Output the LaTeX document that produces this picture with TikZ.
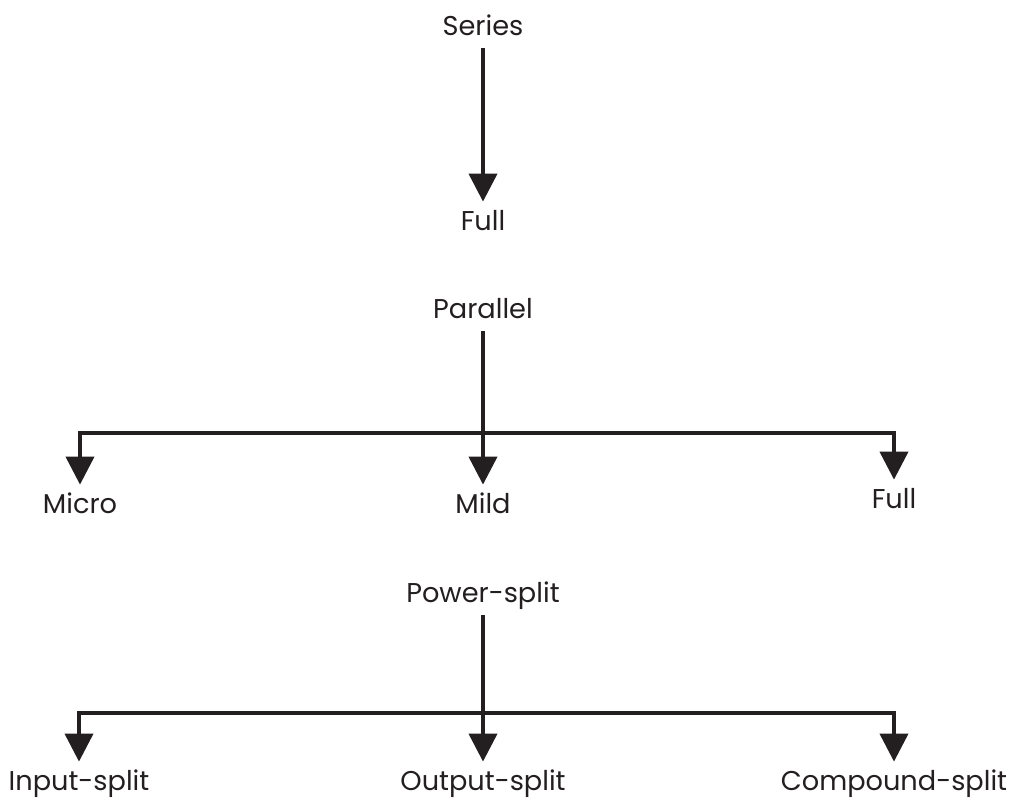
\documentclass[tikz,border=0pt]{standalone}
\usepackage{fontspec}
\setmainfont{Poppins}
\usetikzlibrary{arrows.meta}
\definecolor{ink}{HTML}{231F20}

\begin{document}
\begin{tikzpicture}[x=0.5pt,y=-0.5pt,>={Triangle[length=14pt,width=14pt]}]
\tikzset{lbl/.style={anchor=base,inner xsep=2pt,inner ysep=5pt,text height=9pt,text depth=1.5pt,font=\fontsize{13.6}{16}\selectfont,text=ink},
  link/.style={->,line width=2pt,draw=ink}}
\useasboundingbox (0,0) rectangle (1014,798);
% series
\node[lbl] (ser) at (483,35) {Series};
\node[lbl] (serfull) at (483,230) {Full};
\draw[link] (ser)--(serfull);
% parallel
\node[lbl] (par) at (483,318) {Parallel};
\node[lbl] (micro) at (80,513) {Micro};
\node[lbl] (mild) at (483,513) {Mild};
\node[lbl] (parfull) at (894,508) {Full};
\coordinate (pj) at (483,433);
\draw[link] (par)--(mild);
\draw[link] (pj)-|(micro);
\draw[link] (pj)-|(parfull);
% power-split
\node[lbl] (ps) at (483,602) {Power-split};
\node[lbl] (inp) at (79,790) {Input-split};
\node[lbl] (outp) at (483,790) {Output-split};
\node[lbl] (comp) at (894,790) {Compound-split};
\coordinate (sj) at (483,713);
\draw[link] (ps)--(outp);
\draw[link] (sj)-|(inp);
\draw[link] (sj)-|(comp);
\end{tikzpicture}
\end{document}
